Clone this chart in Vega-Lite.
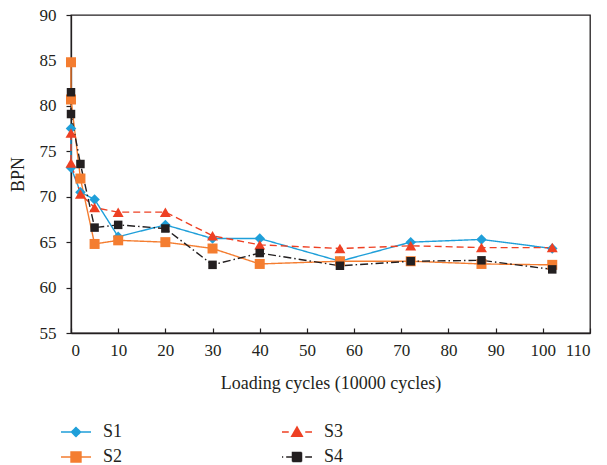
{
  "$schema": "https://vega.github.io/schema/vega-lite/v6.json",
  "width": 519,
  "height": 318,
  "autosize": {"type": "none"},
  "padding": {"left": 71, "top": 15, "right": 17, "bottom": 132},
  "background": "white",
  "config": {
    "font": "Liberation Serif",
    "view": {"stroke": "#231f20", "strokeWidth": 1.3},
    "axis": {"domainColor": "#231f20", "domainWidth": 1.3, "tickColor": "#231f20", "tickWidth": 1.2, "labelColor": "#231f20", "titleColor": "#231f20", "labelFont": "Liberation Serif", "titleFont": "Liberation Serif", "labelFontSize": 17, "titleFontSize": 18, "titleFontWeight": "normal", "grid": false}
  },
  "data": {"values": [
    {"series":"S1","i":0,"x":0,"y":77.5},{"series":"S1","i":1,"x":0,"y":73.2},{"series":"S1","i":2,"x":2,"y":70.5},{"series":"S1","i":3,"x":5,"y":69.7},{"series":"S1","i":4,"x":10,"y":65.6},{"series":"S1","i":5,"x":20,"y":66.9},{"series":"S1","i":6,"x":30,"y":65.4},{"series":"S1","i":7,"x":40,"y":65.4},{"series":"S1","i":8,"x":57,"y":62.9},{"series":"S1","i":9,"x":72,"y":65.0},{"series":"S1","i":10,"x":87,"y":65.3},{"series":"S1","i":11,"x":102,"y":64.3},
    {"series":"S2","i":0,"x":0,"y":84.8},{"series":"S2","i":1,"x":0,"y":80.7},{"series":"S2","i":2,"x":2,"y":72.0},{"series":"S2","i":3,"x":5,"y":64.8},{"series":"S2","i":4,"x":10,"y":65.2},{"series":"S2","i":5,"x":20,"y":65.0},{"series":"S2","i":6,"x":30,"y":64.3},{"series":"S2","i":7,"x":40,"y":62.6},{"series":"S2","i":8,"x":57,"y":62.9},{"series":"S2","i":9,"x":72,"y":62.9},{"series":"S2","i":10,"x":87,"y":62.6},{"series":"S2","i":11,"x":102,"y":62.5},
    {"series":"S3","i":0,"x":0,"y":77.0},{"series":"S3","i":1,"x":0,"y":73.7},{"series":"S3","i":2,"x":2,"y":70.3},{"series":"S3","i":3,"x":5,"y":68.8},{"series":"S3","i":4,"x":10,"y":68.3},{"series":"S3","i":5,"x":20,"y":68.3},{"series":"S3","i":6,"x":30,"y":65.7},{"series":"S3","i":7,"x":40,"y":64.7},{"series":"S3","i":8,"x":57,"y":64.3},{"series":"S3","i":9,"x":72,"y":64.6},{"series":"S3","i":10,"x":87,"y":64.4},{"series":"S3","i":11,"x":102,"y":64.4},
    {"series":"S4","i":0,"x":0,"y":81.5},{"series":"S4","i":1,"x":0,"y":79.1},{"series":"S4","i":2,"x":2,"y":73.6},{"series":"S4","i":3,"x":5,"y":66.6},{"series":"S4","i":4,"x":10,"y":66.9},{"series":"S4","i":5,"x":20,"y":66.5},{"series":"S4","i":6,"x":30,"y":62.5},{"series":"S4","i":7,"x":40,"y":63.8},{"series":"S4","i":8,"x":57,"y":62.4},{"series":"S4","i":9,"x":72,"y":62.9},{"series":"S4","i":10,"x":87,"y":63.0},{"series":"S4","i":11,"x":102,"y":62.0}
  ]},
  "encoding": {
    "x": {"field": "x", "type": "quantitative", "title": "Loading cycles (10000 cycles)",
      "scale": {"domain": [0, 110], "nice": false, "zero": false},
      "axis": {"values": [0,10,20,30,40,50,60,70,80,90,100,110], "tickSize": -5, "labelPadding": 14, "titlePadding": 16}},
    "y": {"field": "y", "type": "quantitative", "title": "BPN",
      "scale": {"domain": [55, 90], "nice": false, "zero": false},
      "axis": {"values": [55,60,65,70,75,80,85,90], "tickSize": 5, "labelPadding": 10, "titlePadding": 12}},
    "color": {"field": "series", "type": "nominal",
      "scale": {"domain": ["S1","S3","S2","S4"], "range": ["#1f9fd9","#ee4023","#f47d30","#231f20"]},
      "legend": {
        "values": ["S1","S2","S3","S4"],
        "title": null, "orient": "none", "legendX": -11, "legendY": 401, "columns": 2,
        "columnPadding": 156, "rowPadding": 0, "padding": 0,
        "symbolSize": 900, "symbolStrokeWidth": 1.5, "labelFontSize": 18, "labelOffset": 11, "labelColor": "#231f20", "labelFont": "Liberation Serif",
        "encode": {"symbols": {"update": {
          "shape": {"signal": "datum.value === 'S1' ? 'M-1,0H1M0,-0.3L0.3,0L0,0.3L-0.3,0Z' : datum.value === 'S2' ? 'M-1,0H1M-0.33,-0.33H0.33V0.33H-0.33Z' : datum.value === 'S3' ? 'M-1,0H-0.55M0.55,0H1M0,-0.33L0.35,0.28H-0.35Z' : 'M-1,0H-0.92M-0.72,0H-0.3M0.55,0H1M-0.3,-0.3H0.3V0.3H-0.3Z'"},
          "fill": {"signal": "datum.value === 'S1' ? '#1f9fd9' : datum.value === 'S2' ? '#f47d30' : datum.value === 'S3' ? '#ee4023' : '#231f20'"},
          "stroke": {"signal": "datum.value === 'S1' ? '#1f9fd9' : datum.value === 'S2' ? '#f47d30' : datum.value === 'S3' ? '#ee4023' : '#231f20'"},
          "strokeWidth": {"value": 1.5},
          "strokeDash": {"value": [1, 0]},
          "opacity": {"value": 1},
          "fillOpacity": {"value": 1},
          "strokeOpacity": {"value": 1}
        }}}
      }}
  },
  "layer": [
    {
      "mark": {"type": "line", "strokeWidth": 1.4},
      "encoding": {
        "order": {"field": "i", "type": "quantitative"},
        "strokeDash": {"field": "series", "type": "nominal",
          "scale": {"domain": ["S1","S2","S3","S4"], "range": [[1,0],[1,0],[7,4],[8,3,1.5,3]]},
          "legend": null}
      }
    },
    {
      "mark": {"type": "point", "filled": true, "opacity": 1},
      "encoding": {
        "shape": {"field": "series", "type": "nominal",
          "scale": {"domain": ["S1","S2","S3","S4"], "range": ["diamond","square","triangle-up","square"]},
          "legend": null},
        "size": {"field": "series", "type": "nominal",
          "scale": {"type": "ordinal", "domain": ["S1","S2","S3","S4"], "range": [110,100,120,72]},
          "legend": null}
      }
    }
  ]
}
